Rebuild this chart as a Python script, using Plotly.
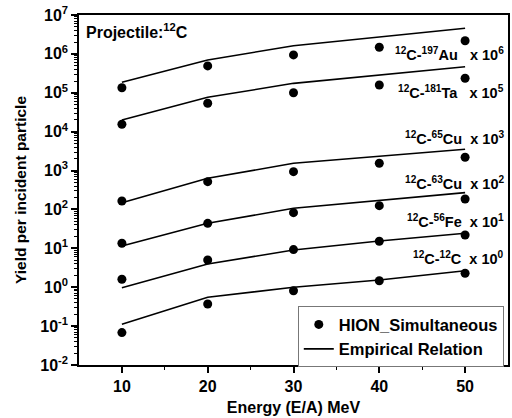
import math
import plotly.graph_objects as go

energy = [10, 20, 30, 40, 50]

# HION_Simultaneous (scaled yields)
au_pts = [1.35e5, 4.9e5, 9.4e5, 1.48e6, 2.18e6]
ta_pts = [1.55e4, 5.37e4, 1.0e5, 1.58e5, 2.36e5]
cu65_pts = [165, 518, 935, 1537, 2193]
cu63_pts = [13.5, 44, 82.5, 125, 186]
fe_pts = [1.6, 5.0, 9.3, 15.2, 22]
c_pts = [0.068, 0.37, 0.81, 1.47, 2.28]

# Empirical relation (scaled yields)
au_emp = [1.86e5, 6.96e5, 1.62e6, 2.77e6, 4.55e6]
ta_emp = [2.0e4, 7.65e4, 1.75e5, 2.87e5, 4.69e5]
cu65_emp = [149, 632, 1537, 2366, 3521]
cu63_emp = [11.5, 44, 107, 168, 270]
fe_emp = [0.97, 3.95, 9.06, 15.4, 24.4]
c_emp = [0.111, 0.55, 1.0, 1.53, 2.66]

series_labels = [
    "<sup>12</sup>C-<sup>197</sup>Au   x 10<sup>6</sup>",
    "<sup>12</sup>C-<sup>181</sup>Ta   x 10<sup>5</sup>",
    "<sup>12</sup>C-<sup>65</sup>Cu  x 10<sup>3</sup>",
    "<sup>12</sup>C-<sup>63</sup>Cu  x 10<sup>2</sup>",
    "<sup>12</sup>C-<sup>56</sup>Fe  x 10<sup>1</sup>",
    "<sup>12</sup>C-<sup>12</sup>C  x 10<sup>0</sup>",
]
label_y = [1.0e6, 1.05e5, 7.0e3, 4.7e2, 5.0e1, 5.6e0]

ytick_vals = [1e-2, 1e-1, 1e0, 1e1, 1e2, 1e3, 1e4, 1e5, 1e6, 1e7]
ytick_text = ["10<sup>-2</sup>", "10<sup>-1</sup>", "10<sup>0</sup>", "10<sup>1</sup>",
              "10<sup>2</sup>", "10<sup>3</sup>", "10<sup>4</sup>", "10<sup>5</sup>",
              "10<sup>6</sup>", "10<sup>7</sup>"]
yminor_vals = [k * 10.0 ** d for d in range(-2, 7) for k in range(2, 10)]

pts = [au_pts, ta_pts, cu65_pts, cu63_pts, fe_pts, c_pts]
emps = [au_emp, ta_emp, cu65_emp, cu63_emp, fe_emp, c_emp]

FONT = "Liberation Sans, Arial, sans-serif"

fig = go.Figure()
for i, (p, e) in enumerate(zip(pts, emps)):
    fig.add_trace(go.Scatter(x=energy, y=e, mode="lines",
                             line=dict(color="black", width=1.6),
                             name="Empirical Relation", legendgroup="emp",
                             showlegend=(i == 0), legendrank=2))
    fig.add_trace(go.Scatter(x=energy, y=p, mode="markers",
                             marker=dict(color="black", size=9),
                             name="HION_Simultaneous", legendgroup="hion",
                             showlegend=(i == 0), legendrank=1))

for txt, yv in zip(series_labels, label_y):
    fig.add_annotation(x=54.75, y=math.log10(yv), xref="x", yref="y", yanchor="middle",
                       text=txt, showarrow=False, xanchor="right",
                       font=dict(family=FONT, size=14.5, color="black", weight="bold"))

fig.add_annotation(xref="paper", yref="paper", x=0.012, y=0.99, xanchor="left", yanchor="top",
                   text="Projectile:<sup>12</sup>C", showarrow=False,
                   font=dict(family=FONT, size=16, color="black", weight="bold"))

fig.update_layout(
    width=512, height=418,
    margin=dict(l=79, r=2, t=15, b=53),
    paper_bgcolor="white", plot_bgcolor="white",
    font=dict(family=FONT, color="black", weight="bold"),
    legend=dict(x=0.51, y=0.168, xanchor="left", yanchor="top",
                bordercolor="#777", borderwidth=1, bgcolor="white",
                font=dict(family=FONT, size=16.5, color="black", weight="bold"),
                tracegroupgap=0, itemwidth=30),
    xaxis=dict(range=[5, 55], tickvals=[10, 20, 30, 40, 50], ticks="outside",
               ticklen=6, tickwidth=1.5, tickcolor="black", showgrid=False, zeroline=False,
               showline=True, linecolor="black", linewidth=1.5, mirror=True,
               minor=dict(tickmode="array", tickvals=[15, 25, 35, 45], ticks="outside",
                          ticklen=3, tickwidth=1.2, tickcolor="black", showgrid=False),
               tickfont=dict(family=FONT, size=16, color="black", weight="bold"),
               title=dict(text="Energy (E/A) MeV", standoff=8,
                          font=dict(family=FONT, size=16, color="black", weight="bold"))),
    yaxis=dict(type="log", range=[-2, 7], tickvals=ytick_vals, ticktext=ytick_text,
               ticks="outside", ticklen=6, tickwidth=1.5, tickcolor="black",
               showgrid=False, zeroline=False,
               showline=True, linecolor="black", linewidth=1.5, mirror=True,
               minor=dict(tickmode="array", tickvals=yminor_vals, ticks="outside",
                          ticklen=3, tickwidth=1, tickcolor="black", showgrid=False),
               tickfont=dict(family=FONT, size=16, color="black", weight="bold"),
               title=dict(text="Yield per incident particle", standoff=10,
                          font=dict(family=FONT, size=15.5, color="black", weight="bold"))),
)

fig.write_html("out.html")
